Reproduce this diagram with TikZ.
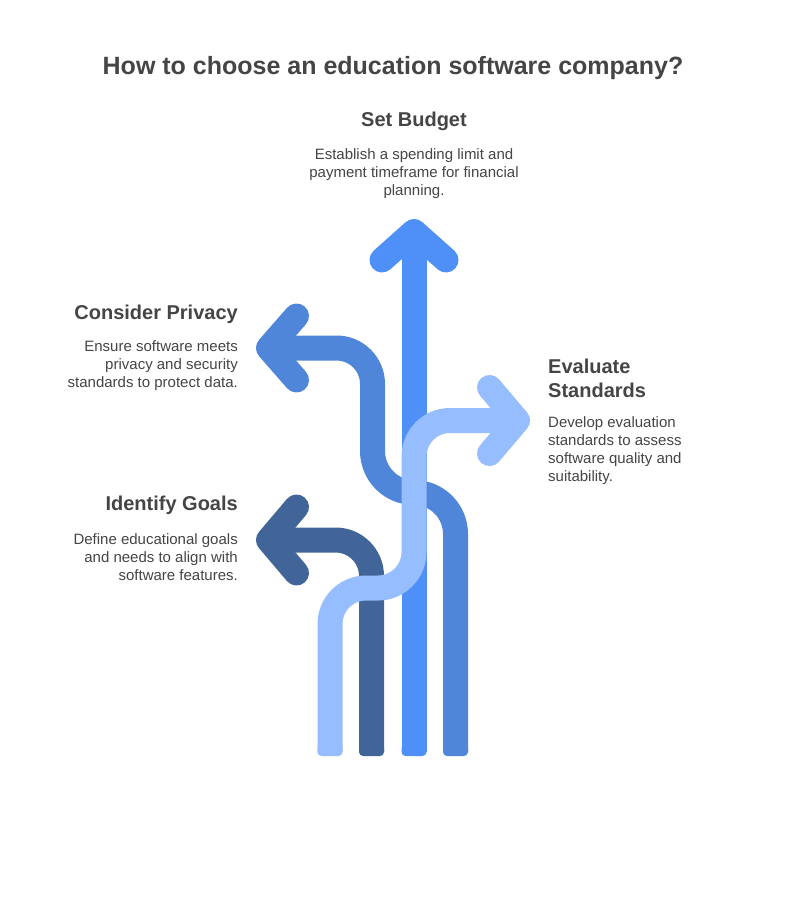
\documentclass[tikz,border=0pt]{standalone}
\usepackage{fontspec}
\setmainfont{Liberation Sans}
\definecolor{cBlue}{HTML}{4E90F7}
\definecolor{cMed}{HTML}{5086D9}
\definecolor{cDark}{HTML}{426599}
\definecolor{cLight}{HTML}{96BDFD}
\definecolor{cText}{HTML}{454545}
\begin{document}
\begin{tikzpicture}[x=1pt,y=1pt,
  band/.style={line width=25pt, line cap=butt, line join=round},
  chevron/.style={line width=25pt, line cap=round, line join=round},
  foot/.style={rounded corners=4pt},
  title/.style={font=\fontsize{25}{30}\selectfont\bfseries, text=cText, inner sep=0pt},
  heading/.style={font=\fontsize{20}{24}\selectfont\bfseries, text=cText, inner sep=0pt},
  body/.style={font=\fontsize{15}{18}\selectfont, text=cText, inner sep=0pt}]
\useasboundingbox (0,0) rectangle (785,-912);
\fill[white] (0,0) rectangle (785,-912);

% Set Budget (blue, straight up)
\coordinate (bB) at (414,-752);
\coordinate (bT) at (414,-231.5);
\draw[band, cBlue] (bB) -- (bT);
\draw[chevron, cBlue] (382,-260) -- (bT) -- (446,-260);
\fill[foot, cBlue] (401.5,-756) rectangle (426.5,-744);

% Identify Goals (dark)
\coordinate (dB) at (371.5,-752);
\coordinate (dT) at (268.5,-540);
\draw[band, cDark] (dB) -- (371.5,-576) arc (0:90:36) -- (dT);
\draw[chevron, cDark] (296.5,-507) -- (dT) -- (296.5,-573);
\fill[foot, cDark] (359,-756) rectangle (384,-744);

% Consider Privacy (medium)
\coordinate (mB) at (455.5,-752);
\coordinate (mT) at (268.5,-348);
\draw[band, cMed] (mB) -- (455.5,-534) arc (0:90:41.5) arc (270:180:41.5)
  -- (372.5,-384) arc (0:90:36) -- (mT);
\draw[chevron, cMed] (296.5,-316) -- (mT) -- (296.5,-380);
\fill[foot, cMed] (443,-756) rectangle (468,-744);

% Evaluate Standards (light)
\coordinate (lB) at (330,-752);
\coordinate (lT) at (517.5,-420.5);
\draw[band, cLight] (lB) -- (330,-624) arc (180:90:36) -- (378,-588) arc (270:360:36)
  -- (414,-456.5) arc (180:90:36) -- (lT);
\draw[chevron, cLight] (489.5,-387.5) -- (lT) -- (489.5,-453.5);
\fill[foot, cLight] (317.5,-756) rectangle (342.5,-744);

% Texts (multi-line nodes: base anchor = baseline of last line)
\node[title, anchor=base] (ttl) at (393,-74.5) {How to choose an education software company?};

\node[heading, anchor=base] (h1) at (414,-127) {Set Budget};
\node[body, anchor=base, align=center] (t1) at (414,-196) {Establish a spending limit and\\payment timeframe for financial\\planning.};

\node[heading, anchor=base east] (h2) at (238,-319) {Consider Privacy};
\node[body, anchor=base east, align=right] (t2) at (238,-387) {Ensure software meets\\privacy and security\\standards to protect data.};

\node[heading, anchor=base east] (h3) at (238,-510) {Identify Goals};
\node[body, anchor=base east, align=right] (t3) at (238,-580) {Define educational goals\\and needs to align with\\software features.};

\node[heading, anchor=base west, align=left] (h4) at (548,-397) {Evaluate\\Standards};
\node[body, anchor=base west, align=left] (t4) at (548,-481) {Develop evaluation\\standards to assess\\software quality and\\suitability.};
\end{tikzpicture}
\end{document}
